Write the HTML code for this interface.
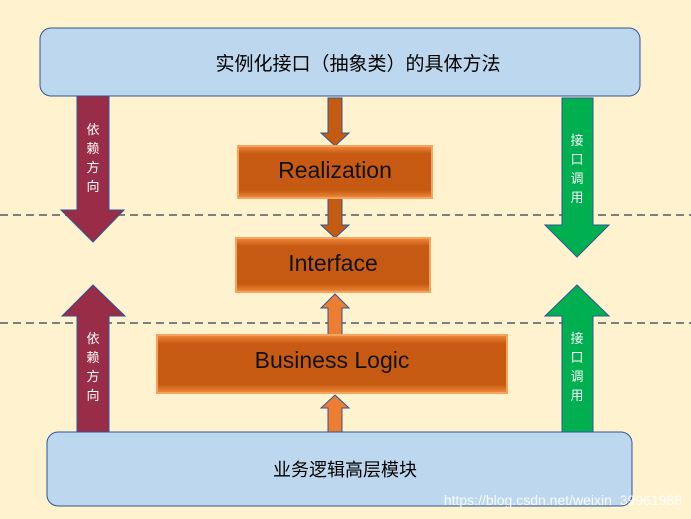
<!DOCTYPE html>
<html><head><meta charset="utf-8"><style>
body{margin:0;background:#fff2cf;}
svg{display:block;font-family:"Liberation Sans","Noto Sans CJK SC",sans-serif;}
</style></head><body>
<svg width="691" height="519" viewBox="0 0 691 519">
<defs>
<linearGradient id="og" x1="0" y1="0" x2="0" y2="1">
<stop offset="0" stop-color="#f08a3a"/><stop offset="0.15" stop-color="#c85a14"/><stop offset="0.85" stop-color="#c55a11"/><stop offset="1" stop-color="#f08a3a"/></linearGradient>
</defs>
<rect width="691" height="519" fill="#fff2cf"/>
<line x1="0" y1="215" x2="691" y2="215" stroke="#7f7f7f" stroke-width="2" stroke-dasharray="8,5"/>
<line x1="0" y1="323" x2="691" y2="323" stroke="#7f7f7f" stroke-width="2" stroke-dasharray="8,5"/>
<rect x="40" y="28" width="600" height="68" rx="11" fill="#bdd7ee" stroke="#2f5597" stroke-width="1"/>
<text x="358" y="70" font-size="19" text-anchor="middle" fill="#000">实例化接口（抽象类）的具体方法</text>
<rect x="47" y="432" width="585" height="74" rx="11" fill="#bdd7ee" stroke="#2f5597" stroke-width="1"/>
<text x="345" y="476" font-size="18" text-anchor="middle" fill="#000">业务逻辑高层模块</text>
<!-- left arrows -->
<polygon points="77,96 109,96 109,210 124,210 93,242 61,210 77,210" fill="#992d47" stroke="#2f5597"/>
<polygon points="93,285 125,316 109,316 109,432 77,432 77,316 62,316" fill="#992d47" stroke="#2f5597"/>
<g fill="#fff" font-size="13" text-anchor="middle">
<text x="93" y="134">依</text><text x="93" y="153">赖</text><text x="93" y="172">方</text><text x="93" y="191">向</text>
<text x="93" y="343">依</text><text x="93" y="362">赖</text><text x="93" y="381">方</text><text x="93" y="400">向</text>
</g>
<!-- right arrows -->
<polygon points="562,98 593,98 593,225 609,225 577,257 545,225 562,225" fill="#00b050" stroke="#2f5597"/>
<polygon points="577,285 609,316 593,316 593,432 562,432 562,316 545,316" fill="#00b050" stroke="#2f5597"/>
<g fill="#fff" font-size="13" text-anchor="middle">
<text x="577" y="145">接</text><text x="577" y="164">口</text><text x="577" y="183">调</text><text x="577" y="202">用</text>
<text x="577" y="343">接</text><text x="577" y="362">口</text><text x="577" y="381">调</text><text x="577" y="400">用</text>
</g>
<!-- center arrows -->
<polygon points="328,98 342,98 342,133 349,133 335,146 321,133 328,133" fill="#c55a11" stroke="#2f5597"/>
<polygon points="328,198 342,198 342,225 349,225 335,238 321,225 328,225" fill="#c55a11" stroke="#2f5597"/>
<polygon points="335,294 349,308 342,308 342,336 328,336 328,308 321,308" fill="#ed7d31" stroke="#2f5597"/>
<polygon points="335,395 349,408 342,408 342,432 328,432 328,408 321,408" fill="#ed7d31" stroke="#2f5597"/>
<!-- boxes -->
<rect x="238" y="146" width="194" height="52" fill="url(#og)" stroke="#f4a460" stroke-width="2"/>
<text x="335" y="178" font-size="23" text-anchor="middle" fill="#111">Realization</text>
<rect x="236" y="238" width="194" height="54" fill="url(#og)" stroke="#f4a460" stroke-width="2"/>
<text x="333" y="271" font-size="23" text-anchor="middle" fill="#111">Interface</text>
<rect x="157" y="335" width="350" height="58" fill="url(#og)" stroke="#f4a460" stroke-width="2"/>
<text x="332" y="368" font-size="23" text-anchor="middle" fill="#111">Business Logic</text>
<text x="682" y="505" font-size="14" text-anchor="end" fill="#ffffff" opacity="0.9">https://blog.csdn.net/weixin_39961988</text>
</svg>
</body></html>
